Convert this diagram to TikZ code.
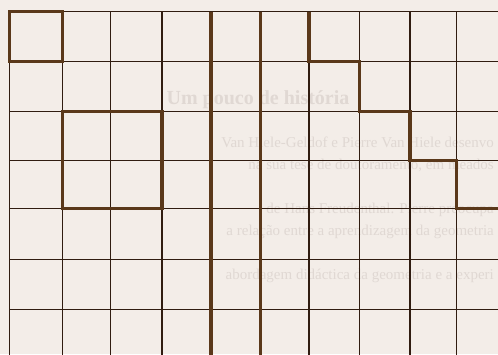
\documentclass[tikz,border=0pt]{standalone}
\usepackage{fontspec}
\setmainfont{Liberation Serif}
\definecolor{paper}{RGB}{243,237,232}
\definecolor{thinc}{RGB}{48,28,16}
\definecolor{thickc}{RGB}{90,56,26}
\definecolor{ghost}{RGB}{224,216,211}
\begin{document}
\begin{tikzpicture}[x=1pt,y=-1pt,
  gridline/.style={draw=thinc,line width=1.6pt},
  boldline/.style={draw=thickc,line width=3.6pt,line cap=square,line join=miter},
  ghosttext/.style={text=ghost,inner sep=0pt,anchor=base east,font=\fontsize{15}{18}\selectfont},
  ghosthead/.style={text=ghost,inner sep=0pt,font=\fontsize{20}{24}\selectfont\bfseries}]
\fill[paper] (0,0) rectangle (498,354);
\useasboundingbox (0,0) rectangle (498,354);
\clip (0,0) rectangle (498,354);
% faint text showing through the grid sheet (only the legible parts)
\node[ghosthead,anchor=base] (head) at (258,104) {Um pouco de história};
\node[ghosttext] (l1) at (494,147) {Van Hiele-Geldof e Pierre Van Hiele desenvo};
\node[ghosttext] (l2) at (494,169) {na sua tese de doutoramento, em meados};
\node[ghosttext] (l4) at (494,213) {de Hans Freudenthal. Pierre preocupa};
\node[ghosttext] (l5) at (494,235) {a relação entre a aprendizagem da geometria};
\node[ghosttext] (l7) at (494,279) {abordagem didáctica da geometria e a experi};
% grid
\def\xs{9.5,62.5,110.5,162,211,260.5,309,359.5,410,456.5}
\def\ys{11.5,61.5,111.5,160.5,208.5,259.5,309.5}
\foreach \x in \xs { \draw[gridline] (\x,11.5) -- (\x,360); }
\foreach \y in \ys { \draw[gridline] (9.5,\y) -- (505,\y); }
% bold outlines
\draw[boldline] (9.5,11.5) rectangle (62.5,61.5);
\draw[boldline] (62.5,111.5) rectangle (162,208.5);
\draw[boldline] (211,11.5) -- (211,360);
\draw[boldline] (260.5,11.5) -- (260.5,360);
\draw[boldline] (309,11.5) -- (309,61.5) -- (359.5,61.5) -- (359.5,111.5)
  -- (410,111.5) -- (410,160.5) -- (456.5,160.5) -- (456.5,208.5) -- (505,208.5);
\end{tikzpicture}
\end{document}
